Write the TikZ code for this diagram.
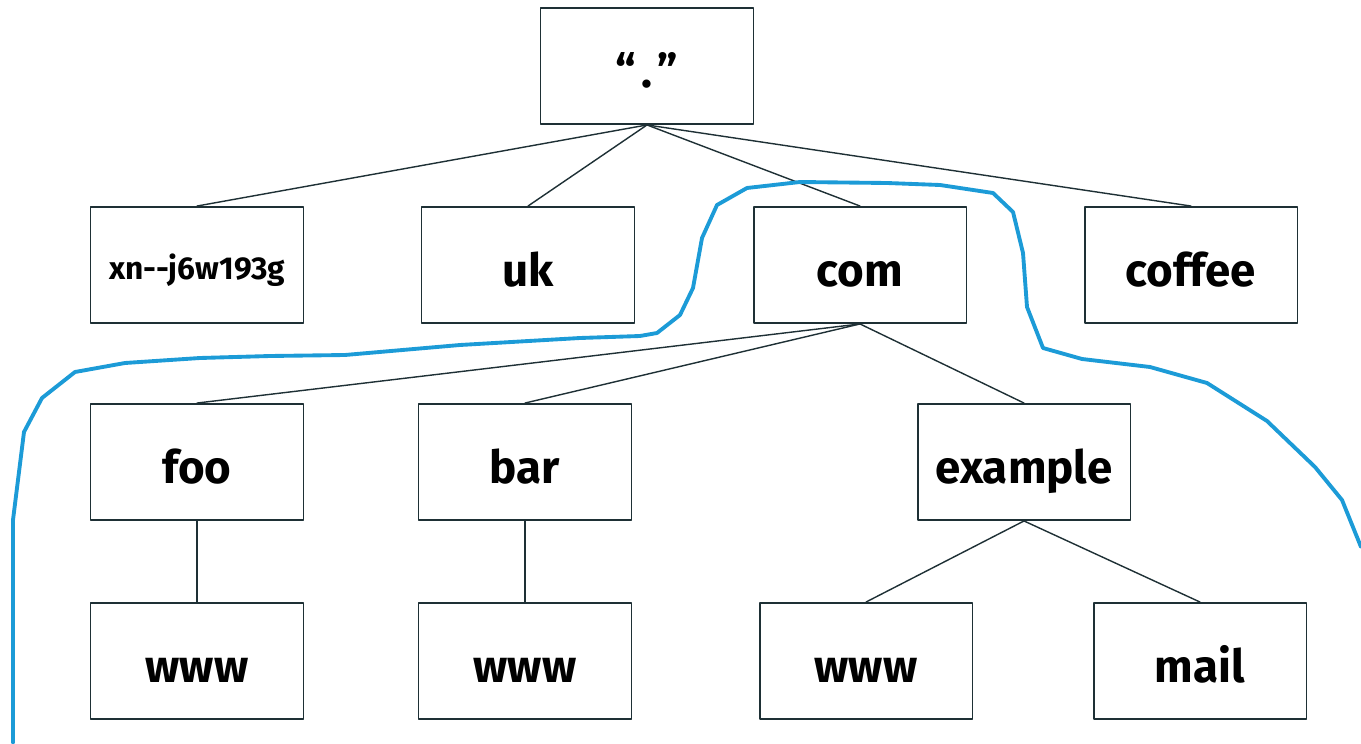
\documentclass[tikz,border=0pt]{standalone}
\usepackage{fontspec}
\setmainfont{Fira Sans}
\definecolor{edgec}{HTML}{1E3035}
\definecolor{zonec}{HTML}{1C9BD7}
\begin{document}
\begin{tikzpicture}[x=0.02cm, y=-0.02cm, line join=round, line cap=round,
	dom/.style={draw=edgec, line width=1.1pt, minimum width=4.26cm, minimum height=2.32cm, inner sep=0pt,
		text height=25pt, text depth=0pt, font=\fontsize{26}{30}\selectfont\bfseries},
	link/.style={draw=edgec, line width=0.8pt}]
	\useasboundingbox (0,0) rectangle (1361,743);
	\def\ya{66} \def\yb{265} \def\yc{462} \def\yd{661}
	% root and top level domains
	\node[dom] (root) at (647,\ya) {“\kern3pt.\kern3pt”};
	\node[dom, text height=17pt, font=\fontsize{18}{20}\selectfont\bfseries] (idn) at (197,\yb) {xn{-}{-}j6w193g};
	\node[dom] (uk) at (528,\yb) {uk};
	\node[dom] (com) at (860,\yb) {com};
	\node[dom] (coffee) at (1191,\yb) {coffee};
	% second level
	\node[dom] (foo) at (197,\yc) {foo};
	\node[dom] (bar) at (525,\yc) {bar};
	\node[dom] (example) at (1024,\yc) {example};
	% hosts
	\node[dom] (foowww) at (197,\yd) {www};
	\node[dom] (barwww) at (525,\yd) {www};
	\node[dom] (exwww) at (866,\yd) {www};
	\node[dom] (exmail) at (1200,\yd) {mail};
	\foreach \a/\b in {root/idn, root/uk, root/com, root/coffee, com/foo, com/bar, com/example, foo/foowww, bar/barwww, example/exwww, example/exmail}
		\draw[link] (\a.south) -- (\b.north);
	% zone boundary
	\draw[zonec, line width=2.2pt] (13,743) -- (13,520) -- (24,432) -- (42,398) -- (75,372) -- (125,363) -- (200,358) -- (270,356)
		-- (345,355) -- (460,345) -- (580,338) -- (640,336) -- (657,333) -- (680,315) -- (693,288) -- (702,238) -- (717,205)
		-- (747,188) -- (800,182) -- (887,183) -- (940,185) -- (993,193) -- (1013,212) -- (1023,253) -- (1027,307)
		-- (1043,348) -- (1082,359) -- (1150,367) -- (1207,383) -- (1267,421) -- (1315,467) -- (1342,500) -- (1361,547);
\end{tikzpicture}
\end{document}
